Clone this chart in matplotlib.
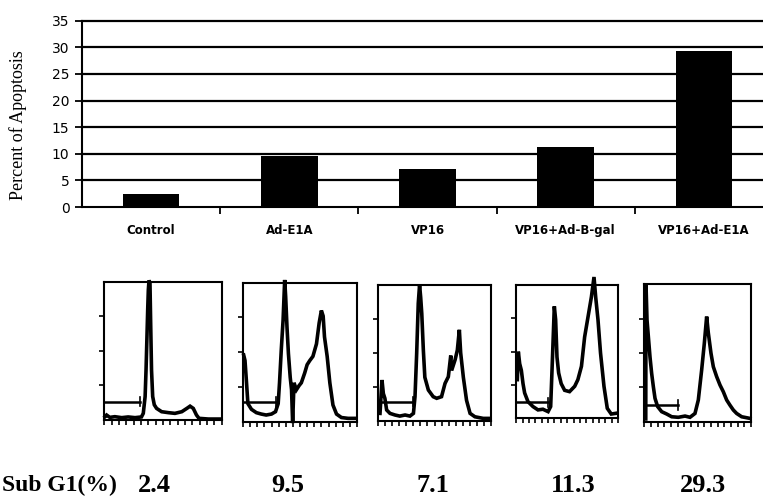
import matplotlib
matplotlib.use("Agg")
import matplotlib.pyplot as plt
import numpy as np

# ---------------- data ----------------
categories = ["Control", "Ad-E1A", "VP16", "VP16+Ad-B-gal", "VP16+Ad-E1A"]
apoptosis = [2.4, 9.5, 7.1, 11.3, 29.3]
yticks = [0, 5, 10, 15, 20, 25, 30, 35]
subg1_labels = ["2.4", "9.5", "7.1", "11.3", "29.3"]
row_label = "Sub G1(%)"
ylabel = "Percent of Apoptosis"

# DNA-content histograms (channel 0-256, counts as % of panel height)
h1_ch = [1.5, 5, 12, 23, 38, 52, 67, 81, 85, 89, 91, 93, 94.6, 96, 97.5, 99.6, 101, 103,
         105.5, 109, 114, 125, 140, 154, 169, 180, 187, 194, 201, 206.5, 227, 252]
h1_cnt = [2.4, 3.6, 1.9, 2.4, 1.7, 2.2, 1.7, 2.2, 4.8, 16.9, 36, 60, 79.5, 94, 101, 99, 72, 36,
          17, 11, 8.4, 6, 5.3, 4.8, 6, 8.4, 10, 8.4, 3.6, 1.2, 0.7, 0.7]

h2_ch = [1.5, 4.5, 7.5, 11, 19, 30, 41, 52, 64, 73, 79, 82, 86, 90, 93.6, 95.8, 98.8, 102, 106,
         109, 111.5, 114.5, 120, 126, 131, 138.5, 144, 150, 157, 165, 171, 176, 180, 183, 189,
         195, 202, 210, 221, 236, 253]
h2_cnt = [48, 44, 30, 13, 8.9, 6.5, 5.5, 4.8, 5.5, 7.2, 13, 28, 52, 73, 102, 90, 68, 49, 32,
          23, -1, 28, 23, 26, 28, 35, 41, 44, 47, 56, 71, 80, 76, 61, 47,
          28, 12, 5.5, 3, 2.4, 2.4]

h3_ch = [3.9, 8.4, 11.5, 15, 19, 26.6, 38, 49, 61, 72, 80, 83.6, 87.4, 91, 94, 96.5, 99, 102.6,
         106, 114, 125, 133, 144, 152, 159.5, 165, 167, 175, 180, 184.6, 187.6, 193.7, 201,
         209, 220, 239, 254]
h3_cnt = [5.4, 30, 20, 16.5, 7.9, 5.4, 4.2, 3.4, 4.2, 3.4, 5.4, 17.7, 49.6, 86.5, 100, 91, 79, 52,
          32, 22.6, 17.7, 16.5, 17.7, 27.5, 32.4, 48, 37, 45, 52, 67, 50, 32, 15,
          5.4, 2.9, 1.7, 1.7]

h4_ch = [2.6, 5.1, 8.5, 12.7, 16.9, 21, 29.4, 42, 54.6, 67, 80, 86.5, 91.5, 95.7, 99, 102.4,
         106.6, 113, 121.7, 134, 147, 155, 164, 172, 180.5, 189, 195.6, 199.8, 205.6, 212,
         220.7, 229, 239, 252]
h4_cnt = [29, 50, 41, 36, 26, 19, 12.5, 8.8, 6.3, 6.8, 5, 8.8, 49, 84, 74, 46,
          34, 26, 21, 20, 24, 29, 39, 61, 76, 91, 106, 91, 74, 49,
          24, 7.5, 3.2, 3.8]

h5_ch = [3.5, 4, 6.5, 9.7, 13.7, 17.7, 21.7, 25.7, 32, 41.7, 53.7, 65.7, 81.6, 97.7, 109.6,
         121.6, 129.6, 137.6, 144, 149.6, 153.6, 160, 165.6, 173.6, 181.6, 189.6, 197.6,
         205.6, 213.6, 221.6, 233.6, 253.6]
h5_cnt = [2, 100.7, 74, 62, 47, 35, 25.5, 17, 11, 7.3, 5.6, 3.6, 3.2, 4.1, 3.2,
          6, 15.8, 37.6, 57, 76.5, 64.6, 49.8, 40, 32.8, 26.7, 21.8, 15.8,
          12, 8.5, 6, 3.6, 2.4]

hist_ch = [h1_ch, h2_ch, h3_ch, h4_ch, h5_ch]
hist_cnt = [h1_cnt, h2_cnt, h3_cnt, h4_cnt, h5_cnt]
gate_level = [13.3, 14.4, 14.0, 12.0, 12.0]
gate_end = [78, 75, 78, 80, 80]

# ---------------- layout ----------------
W, H = 763, 498
fig = plt.figure(figsize=(W / 100, H / 100), dpi=100)
fig.patch.set_facecolor("white")


def px_axes(l, t, r, b):
    return fig.add_axes([l / W, 1 - b / H, (r - l) / W, (b - t) / H])


# bar chart
ax = px_axes(82, 20.7, 773, 207)
xpos = np.arange(len(categories))
ax.bar(xpos, apoptosis, width=0.41, color="black", zorder=3)
ax.set_xlim(-0.5, 4.5)
ax.set_ylim(0, 35)
for v in yticks[1:]:
    ax.axhline(v, color="black", lw=1.6, zorder=1, clip_on=False)
for s in ["top", "right"]:
    ax.spines[s].set_visible(False)
for s in ["left", "bottom"]:
    ax.spines[s].set_linewidth(1.5)
ax.set_yticks(yticks)
ax.set_yticklabels([str(v) for v in yticks], fontsize=10, family="DejaVu Sans")
ax.tick_params(axis="y", length=5, width=1.3, pad=4)
ax.set_xticks(xpos)
ax.set_xticklabels(categories, fontsize=8.5, fontweight="bold", family="DejaVu Sans")
ax.tick_params(axis="x", which="major", length=0, pad=12)
ax.set_xticks([0.5, 1.5, 2.5, 3.5], minor=True)
ax.tick_params(axis="x", which="minor", length=5, width=1.3, direction="out")

fig.text(18 / W, 1 - 125 / H, ylabel, rotation=90, ha="center", va="center",
         fontsize=13, family="Liberation Serif")

# histogram panels
panel_px = [(104.3, 281.7, 221.7, 420.0),
            (243.0, 282.7, 357.0, 421.7),
            (378.3, 285.0, 490.7, 420.7),
            (516.3, 285.0, 618.0, 418.3),
            (644.3, 284.3, 751.0, 421.7)]
for i, (l, t, r, b) in enumerate(panel_px):
    hx = px_axes(l, t, r, b)
    hx.plot(hist_ch[i], hist_cnt[i], color="black", lw=2.6, clip_on=False,
            solid_joinstyle="miter")
    hx.plot([0, gate_end[i]], [gate_level[i], gate_level[i]], color="black", lw=1.8)
    hx.plot([gate_end[i], gate_end[i]], [gate_level[i] - 3.5, gate_level[i] + 3.5],
            color="black", lw=1.2)
    hx.set_xlim(0, 256)
    hx.set_ylim(0, 100)
    for s in hx.spines.values():
        s.set_linewidth(1.5)
    hx.set_xticks(np.linspace(0, 256, 17))
    hx.set_yticks([25, 50, 75])
    hx.tick_params(length=3.5, width=1.2, labelbottom=False, labelleft=False)

# sub G1 row
row_x = [154, 288, 433, 573, 703]
fig.text(2 / W, 1 - 485 / H, row_label, ha="left", va="center", fontsize=17,
         fontweight="bold", family="Liberation Serif")
for xx, lab in zip(row_x, subg1_labels):
    fig.text(xx / W, 1 - 485 / H, lab, ha="center", va="center", fontsize=19,
             fontweight="bold", family="Liberation Serif")

fig.savefig("out.png", dpi=100)
